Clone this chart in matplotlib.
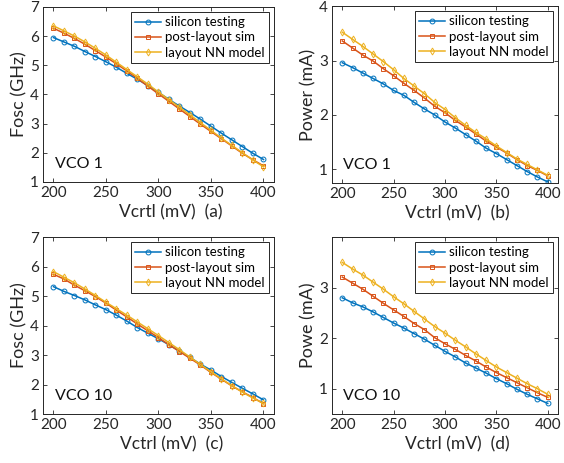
import numpy as np
import matplotlib.pyplot as plt

plt.rcParams['font.family'] = ['Lato', 'DejaVu Sans']

vctrl = np.arange(200, 401, 10)

# VCO 1
fosc1_si = [5.95, 5.80, 5.65, 5.47, 5.30, 5.12, 4.93, 4.72, 4.52, 4.30, 4.07,
            3.83, 3.60, 3.38, 3.15, 2.91, 2.67, 2.44, 2.21, 1.98, 1.77]
fosc1_post = [6.27, 6.10, 5.92, 5.72, 5.50, 5.28, 5.05, 4.80, 4.55, 4.28, 4.02,
              3.76, 3.50, 3.24, 2.98, 2.73, 2.48, 2.23, 1.98, 1.76, 1.55]
fosc1_nn = [6.35, 6.18, 6.00, 5.80, 5.58, 5.35, 5.10, 4.85, 4.60, 4.35, 4.08,
            3.82, 3.56, 3.30, 3.03, 2.77, 2.50, 2.25, 2.00, 1.75, 1.52]
pow1_si = [2.96, 2.87, 2.77, 2.67, 2.57, 2.45, 2.36, 2.23, 2.11, 2.00, 1.87,
           1.76, 1.64, 1.52, 1.39, 1.29, 1.18, 1.07, 0.96, 0.86, 0.77]
pow1_post = [3.36, 3.23, 3.10, 2.99, 2.85, 2.72, 2.58, 2.45, 2.31, 2.16, 2.04,
             1.90, 1.78, 1.65, 1.52, 1.41, 1.30, 1.18, 1.07, 0.98, 0.88]
pow1_nn = [3.52, 3.39, 3.26, 3.12, 2.98, 2.83, 2.67, 2.53, 2.39, 2.23, 2.10,
           1.95, 1.81, 1.68, 1.56, 1.43, 1.31, 1.19, 1.09, 0.99, 0.89]

# VCO 10
fosc10_si = [5.32, 5.16, 5.02, 4.87, 4.70, 4.54, 4.35, 4.15, 3.93, 3.74, 3.55,
             3.35, 3.13, 2.92, 2.69, 2.49, 2.27, 2.07, 1.87, 1.68, 1.48]
fosc10_post = [5.74, 5.58, 5.37, 5.18, 4.98, 4.76, 4.52, 4.29, 4.05, 3.82, 3.59,
               3.35, 3.12, 2.89, 2.66, 2.41, 2.18, 1.95, 1.75, 1.56, 1.35]
fosc10_nn = [5.83, 5.64, 5.45, 5.24, 5.02, 4.79, 4.57, 4.35, 4.12, 3.89, 3.66,
             3.42, 3.18, 2.93, 2.68, 2.43, 2.19, 1.96, 1.74, 1.54, 1.36]
pow10_si = [2.80, 2.70, 2.62, 2.52, 2.41, 2.30, 2.20, 2.09, 1.98, 1.86, 1.74,
            1.63, 1.51, 1.41, 1.31, 1.20, 1.10, 0.99, 0.89, 0.80, 0.71]
pow10_post = [3.21, 3.09, 2.97, 2.83, 2.69, 2.56, 2.43, 2.29, 2.17, 2.01, 1.89,
              1.78, 1.66, 1.55, 1.43, 1.32, 1.22, 1.12, 1.02, 0.92, 0.83]
pow10_nn = [3.50, 3.37, 3.25, 3.11, 2.97, 2.82, 2.68, 2.53, 2.38, 2.23, 2.10,
            1.96, 1.83, 1.69, 1.56, 1.43, 1.32, 1.21, 1.10, 1.00, 0.89]

labels = ['silicon testing', 'post-layout sim', 'layout NN model']
colors = ['#0072BD', '#D95319', '#EDB120']
markers = ['o', 's', 'd']

fig = plt.figure(figsize=(5.64, 4.63), dpi=100)

panels = [
    ([0.0762, 0.607, 0.4096, 0.378], (fosc1_si, fosc1_post, fosc1_nn),
     'Fosc (GHz)', 'Vcrtl (mV)  (a)', 'VCO 1', (1, 7), [1, 2, 3, 4, 5, 6, 7]),
    ([0.5887, 0.6048, 0.4007, 0.382], (pow1_si, pow1_post, pow1_nn),
     'Power (mA)', 'Vctrl (mV)  (b)', 'VCO 1', (0.75, 4), [1, 2, 3, 4]),
    ([0.0762, 0.1058, 0.4096, 0.382], (fosc10_si, fosc10_post, fosc10_nn),
     'Fosc (GHz)', 'Vctrl (mV)  (c)', 'VCO 10', (1, 7), [1, 2, 3, 4, 5, 6, 7]),
    ([0.5887, 0.1058, 0.4007, 0.382], (pow10_si, pow10_post, pow10_nn),
     'Powe (mA)', 'Vctrl (mV)  (d)', 'VCO 10', (0.5, 4), [1, 2, 3]),
]

for rect, series, ylab, xlab, tag, ylim, yticks in panels:
    ax = fig.add_axes(rect)
    for y, lab, c, m in zip(series, labels, colors, markers):
        ax.plot(vctrl, y, color=c, marker=m, markersize=3.5, markerfacecolor='none',
                markeredgewidth=0.7, linewidth=1.1, label=lab)
    ax.set_xlim(190, 410)
    ax.set_ylim(*ylim)
    ax.set_xticks([200, 250, 300, 350, 400])
    ax.set_yticks(yticks)
    ax.tick_params(direction='in', top=True, right=True, labelsize=11,
                   length=3, width=0.6, colors='#262626', pad=3)
    for s in ax.spines.values():
        s.set_color('#262626')
        s.set_linewidth(0.7)
    ax.set_ylabel(ylab, fontsize=13, color='#262626', labelpad=2)
    ax.set_xlabel(xlab, fontsize=12.5, color='#262626')
    ax.xaxis.set_label_coords(0.555, -0.125)
    ax.text(0.05, 0.1, tag, transform=ax.transAxes, fontsize=11.5,
            color='#111111', va='center')
    leg = ax.legend(loc='upper right', fontsize=9.5, fancybox=False,
                    framealpha=1, edgecolor='#262626', borderpad=0.3,
                    handlelength=2.0, handletextpad=0.3, labelspacing=0.25,
                    borderaxespad=0.4)
    leg.get_frame().set_linewidth(0.7)

fig.savefig('out.png', dpi=100)
